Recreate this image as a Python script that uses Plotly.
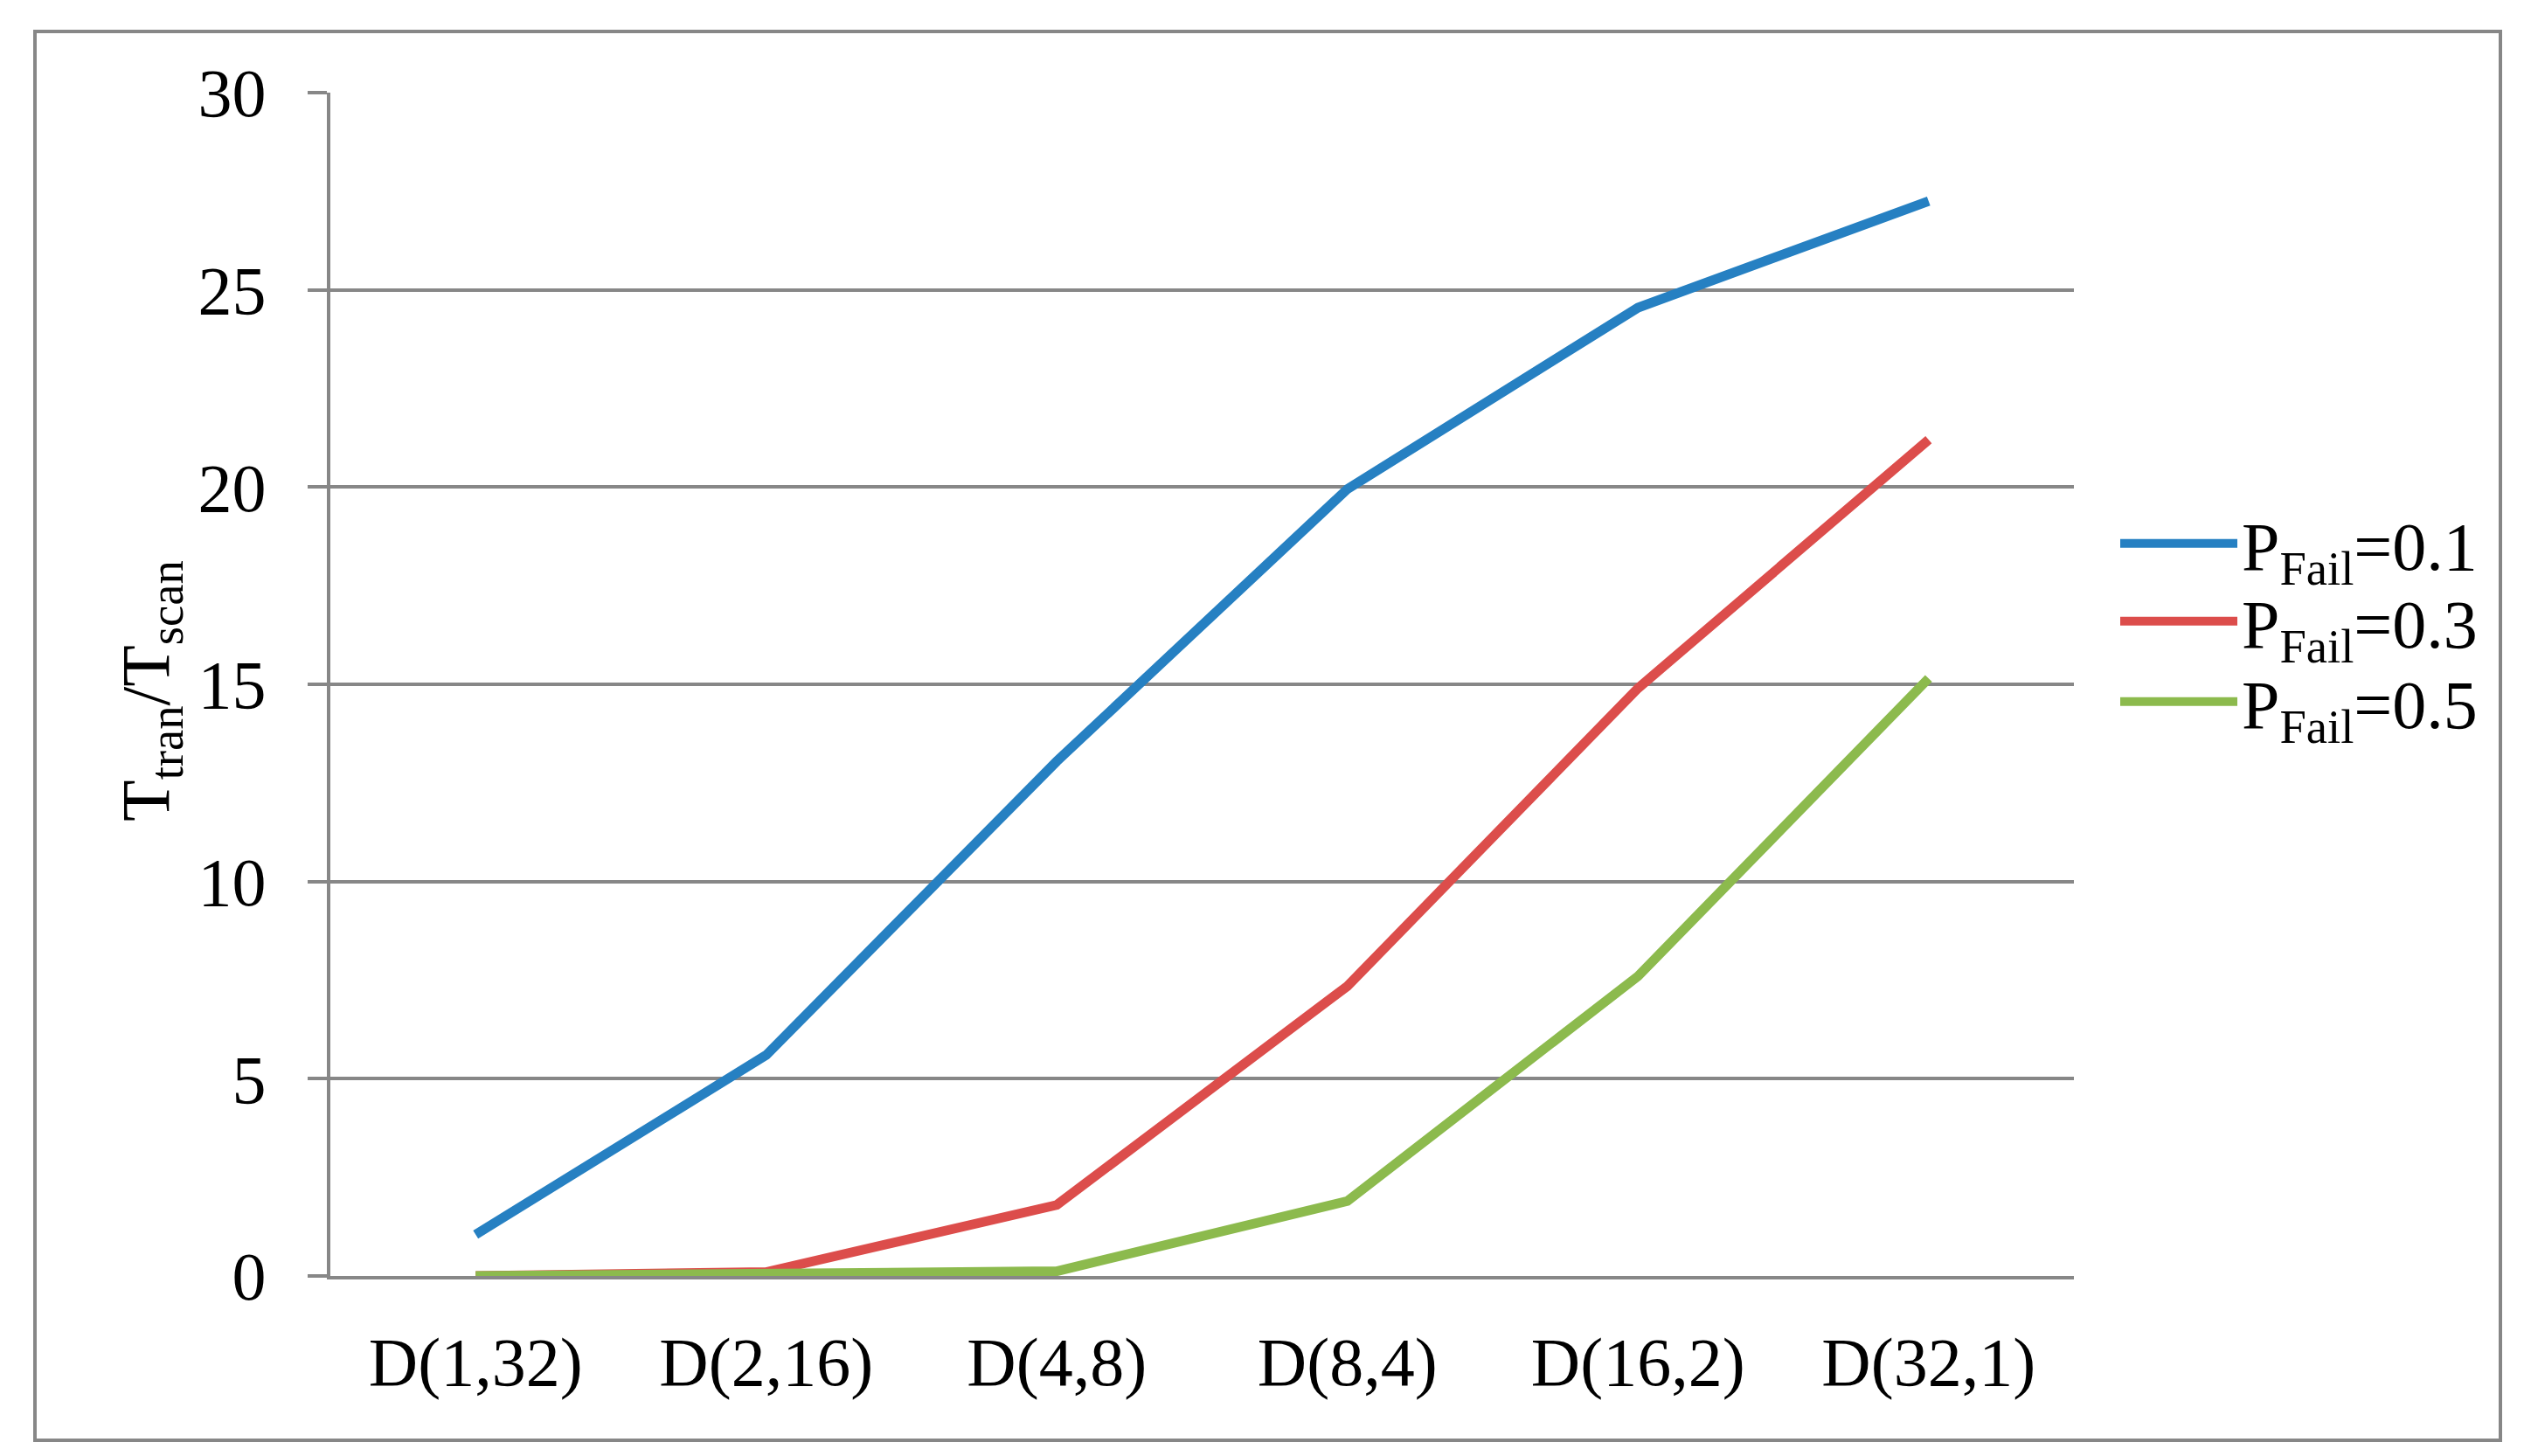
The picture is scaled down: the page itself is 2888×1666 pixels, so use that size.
import plotly.graph_objects as go

categories = ["D(1,32)", "D(2,16)", "D(4,8)", "D(8,4)", "D(16,2)", "D(32,1)"]
p01 = [1.05, 5.6, 13.05, 19.95, 24.55, 27.25]
p03 = [0.0, 0.1, 1.8, 7.35, 14.9, 21.2]
p05 = [0.0, 0.05, 0.12, 1.9, 7.6, 15.15]
series_names = ["P<sub>Fail</sub>=0.1", "P<sub>Fail</sub>=0.3", "P<sub>Fail</sub>=0.5"]
colors = ["#2680C2", "#DC4D4B", "#8CBA4D"]
y_ticks = [0, 5, 10, 15, 20, 25, 30]

W, H = 2888, 1666
L, R, T, B = 370, 2365, 98, 1452
FONT = "Liberation Serif, Times New Roman, serif"

pw, ph = R - L, B - T
def px(x): return (x - L) / pw
def py(y): return (B - y) / ph

legend_ids = ["legend", "legend2", "legend3"]
legend_rows = [614, 703, 795]

fig = go.Figure()
for name, vals, c, lid in zip(series_names, [p01, p03, p05], colors, legend_ids):
    fig.add_trace(go.Scatter(x=categories, y=vals, mode="lines", name=name,
                             legend=lid, line=dict(color=c, width=11)))

leg_common = dict(x=px(2413), xanchor="left", yanchor="middle",
                  font=dict(family=FONT, size=78), itemwidth=134,
                  bgcolor="rgba(0,0,0,0)")
legends = {lid: dict(leg_common, y=py(row)) for lid, row in zip(legend_ids, legend_rows)}

fig.update_layout(
    width=W, height=H,
    margin=dict(l=L, r=W - R, t=T, b=H - B),
    paper_bgcolor="white", plot_bgcolor="white",
    font=dict(family=FONT, size=78, color="black"),
    showlegend=True,
    xaxis=dict(type="category", range=[-0.5, 5.5], showgrid=False,
               showline=True, linecolor="#878787", linewidth=4,
               ticks="", ticklabelstandoff=27,
               tickfont=dict(family=FONT, size=78)),
    yaxis=dict(range=[0, 30], tickvals=y_ticks, showgrid=True,
               gridcolor="#878787", gridwidth=4, zeroline=False,
               showline=True, linecolor="#878787", linewidth=4,
               ticks="outside", ticklen=22, tickwidth=4, tickcolor="#878787",
               ticklabelstandoff=32,
               tickfont=dict(family=FONT, size=78)),
    shapes=[dict(type="rect", xref="paper", yref="paper",
                 x0=px(32), x1=px(2853), y0=py(1640), y1=py(28),
                 line=dict(color="#878787", width=4))],
    annotations=[dict(text="T<sub>tran</sub>/T<sub>scan</sub>", textangle=-90,
                      xref="paper", yref="paper", x=px(164), y=py(783),
                      xanchor="center", yanchor="middle", showarrow=False,
                      font=dict(family=FONT, size=78))],
    **legends,
)

fig.write_html("out.html")
